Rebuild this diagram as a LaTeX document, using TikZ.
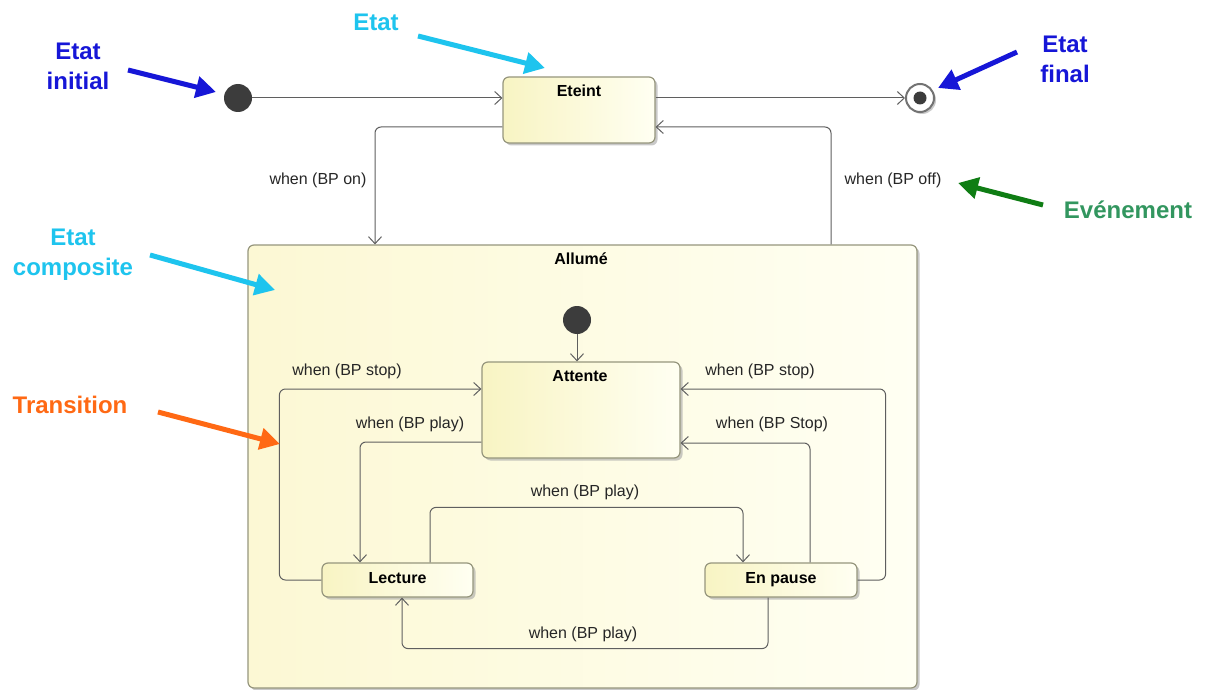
\documentclass[tikz,border=0pt]{standalone}
\usepackage{fontspec}
\setmainfont{Liberation Sans}
\usetikzlibrary{shadows,arrows.meta,calc}
\definecolor{boxline}{RGB}{150,150,125}
\definecolor{yelL}{RGB}{248,244,195}
\definecolor{yelR}{RGB}{255,255,242}
\definecolor{conncol}{RGB}{95,95,95}
\definecolor{dotcol}{RGB}{60,60,60}
\definecolor{anblue}{RGB}{22,22,215}
\definecolor{ancyan}{RGB}{30,196,238}
\definecolor{anorange}{RGB}{255,105,20}
\definecolor{angreentext}{RGB}{50,150,95}
\definecolor{angreen}{RGB}{15,125,20}
\tikzset{
  statebox/.style={draw=boxline, line width=1.2pt, rounded corners=6pt,
    left color=yelL, right color=yelR, shading angle=90,
    drop shadow={shadow xshift=2.5pt, shadow yshift=-2.5pt, fill=black!35, opacity=0.6},
    inner sep=0pt, font=\bfseries\fontsize{16}{18}\selectfont,
    text height=11.5pt, text depth=4.5pt},
  titletext/.style={font=\bfseries\fontsize{16}{18}\selectfont, inner sep=0pt},
  conn/.style={draw=conncol, line width=1pt, rounded corners=6pt,
    -{Straight Barb[length=7pt,width=13pt,line width=1pt]}},
  lbl/.style={font=\fontsize{16}{18}\selectfont, inner sep=0pt, text=black!85},
  initdot/.style={circle, fill=dotcol, minimum size=28pt, inner sep=0pt},
  annot/.style={font=\bfseries\fontsize{24}{30}\selectfont, align=center, inner sep=0pt},
  anarrow/.style={line width=5pt, -{Triangle[length=20pt,width=21pt]}},
}
\begin{document}
\begin{tikzpicture}[x=1pt,y=-1pt]
\useasboundingbox[fill=white] (0,0) rectangle (1205,690);

% top states
\node[initdot] (init) at (238,98) {};
\node[statebox, minimum width=152pt, minimum height=66pt] (eteint) at (579,110) {};
\node[titletext] at (579,91) {Eteint};
\node[circle, draw=black!55, line width=2pt, fill=white, minimum size=28pt, inner sep=0pt,
  drop shadow={shadow xshift=2pt, shadow yshift=-2pt, fill=black!35, opacity=0.6}] (final) at (920,98) {};
\node[circle, fill=dotcol, minimum size=13pt, inner sep=0pt] (finaldot) at (final.center) {};

% composite
\node[statebox, minimum width=669pt, minimum height=443pt,
  left color={rgb,255:red,252;green,248;blue,212}, right color={rgb,255:red,255;green,255;blue,243}] (allume) at (582.5,466.5) {};
\node[titletext] at (581,259) {Allumé};

\node[initdot] (iinit) at (577,320) {};
\node[statebox, minimum width=198pt, minimum height=96pt] (attente) at (581,410) {};
\node[titletext] at (580,376) {Attente};
\node[statebox, minimum width=151pt, minimum height=34pt] (lecture) at (397.5,580) {Lecture};
\node[statebox, minimum width=152pt, minimum height=34pt] (enpause) at (781,580) {En pause};

% transitions top
\draw[conn] (init) -- (eteint.west |- init);
\draw[conn] (eteint.east |- init) -- (final);
\draw[conn] ([yshift=-17pt]eteint.west) -| ([xshift=-207.5pt]allume.north);
\draw[conn] ([xshift=248.5pt]allume.north) |- ([yshift=-17pt]eteint.east);
\node[lbl] at (318,180) {when (BP on)};
\node[lbl] at (893,180) {when (BP off)};

% inner transitions
\draw[conn] (iinit) -- (iinit |- attente.north);
\draw[conn] (lecture.west) -- ++(-42,0) |- ([yshift=21pt]attente.west);
\draw[conn] ([yshift=-32pt]attente.west) -| ([xshift=-37.5pt]lecture.north);
\draw[conn] ([xshift=32.5pt]lecture.north) -- ++(0,-55) -| ([xshift=-38pt]enpause.north);
\draw[conn] ([xshift=-13pt]enpause.south) -- ++(0,51) -| ([xshift=4.5pt]lecture.south);
\draw[conn] (enpause.east) -- ++(28,0) |- ([yshift=21pt]attente.east);
\draw[conn] ([xshift=29pt]enpause.north) |- ([yshift=-33pt]attente.east);

\node[lbl] at (347,371) {when (BP stop)};
\node[lbl] at (410,424) {when (BP play)};
\node[lbl] at (585,492) {when (BP play)};
\node[lbl] at (583,634) {when (BP play)};
\node[lbl] at (760,371) {when (BP stop)};
\node[lbl] at (772,424) {when (BP Stop)};

% annotations
\node[annot, text=anblue] (aInit) at (78,66) {Etat\\initial};
\coordinate (aInitS) at (128,70);
\coordinate (aInitE) at (216,92);
\draw[anarrow, anblue] (aInitS) -- (aInitE);

\node[annot, text=ancyan] (aEtat) at (376,22) {Etat};
\coordinate (aEtatS) at (418,36);
\coordinate (aEtatE) at (545,68);
\draw[anarrow, ancyan] (aEtatS) -- (aEtatE);

\node[annot, text=anblue] (aFinal) at (1065,59) {Etat\\final};
\coordinate (aFinalS) at (1017,52);
\coordinate (aFinalE) at (938,88);
\draw[anarrow, anblue] (aFinalS) -- (aFinalE);

\node[annot, text=angreentext] (aEvt) at (1128,210) {Evénement};
\coordinate (aEvtS) at (1043,205);
\coordinate (aEvtE) at (958,183);
\draw[anarrow, angreen] (aEvtS) -- (aEvtE);

\node[annot, text=ancyan] (aComp) at (73,255) {Etat\\composite};
\coordinate (aCompS) at (150,255);
\coordinate (aCompE) at (275,290);
\draw[anarrow, ancyan] (aCompS) -- (aCompE);

\node[annot, text=anorange] (aTrans) at (70,405) {Transition};
\coordinate (aTransS) at (158,412);
\coordinate (aTransE) at (280,444);
\draw[anarrow, anorange] (aTransS) -- (aTransE);
\end{tikzpicture}
\end{document}
